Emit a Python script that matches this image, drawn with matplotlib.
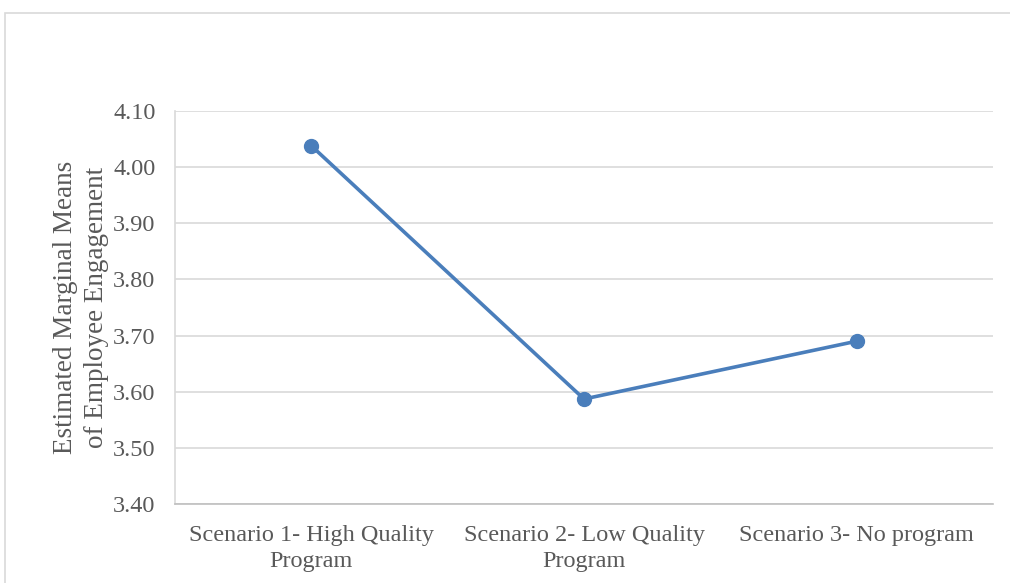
import matplotlib.pyplot as plt
from matplotlib.patches import Rectangle

# Estimated marginal means per scenario
scenarios = ["Scenario 1- High Quality\nProgram",
             "Scenario 2- Low Quality\nProgram",
             "Scenario 3- No program"]
means = [4.038, 3.587, 3.690]
yticks = [3.40, 3.50, 3.60, 3.70, 3.80, 3.90, 4.00, 4.10]

plt.rcParams['font.family'] = ['Liberation Serif', 'DejaVu Serif']

fig = plt.figure(figsize=(10.1, 5.83), dpi=100)
W, H = 1010, 583
ax = fig.add_axes([175 / W, 1 - 504 / H, (993 - 175) / W, (504 - 111) / H])

# outer chart border
fig.patches.append(Rectangle((5 / W, -0.05), 1.1, 1 - 13 / H + 0.05,
                             transform=fig.transFigure, fill=False,
                             edgecolor='#d9d9d9', linewidth=1.2))

x = range(len(scenarios))
ax.plot(x, means, color='#4a7ebb', linewidth=2.6, marker='o',
        markersize=10, zorder=3)

ax.set_xlim(-0.5, 2.5)
ax.set_ylim(3.40, 4.10)
ax.set_yticks(yticks)
ax.set_yticklabels([f"{v:.2f}" for v in yticks])
ax.set_xticks(list(x))
ax.set_xticklabels(scenarios, linespacing=1.3)

ax.grid(axis='y', color='#d9d9d9', linewidth=1.2)
ax.set_axisbelow(True)
for side in ['top', 'right']:
    ax.spines[side].set_visible(False)
ax.spines['left'].set_color('#d9d9d9')
ax.spines['bottom'].set_color('#bfbfbf')
ax.spines['left'].set_linewidth(1.2)
ax.spines['bottom'].set_linewidth(1.2)

ax.tick_params(axis='both', length=0, labelsize=17.5, colors='#595959')
ax.tick_params(axis='y', pad=14)
ax.tick_params(axis='x', pad=15)

ax.set_ylabel("Estimated Marginal Means\nof Employee Engagement",
              fontsize=19.5, color='#595959', linespacing=1.3, labelpad=3)

fig.savefig("out.png", dpi=100)
